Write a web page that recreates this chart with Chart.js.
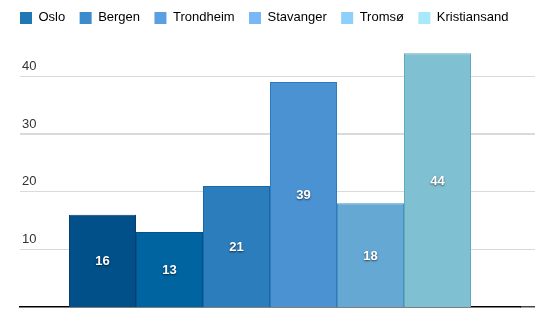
<!DOCTYPE html>
<html>
<head>
<meta charset="utf-8">
<script src="https://cdn.jsdelivr.net/npm/chart.js@4/dist/chart.umd.min.js"></script>
<style>
  html, body { margin: 0; padding: 0; background: #fff; }
  #wrap { width: 552px; height: 322px; position: relative; }
</style>
</head>
<body>
<div id="wrap"><canvas id="c" width="552" height="322"></canvas></div>
<script>
const cities = ['Oslo', 'Bergen', 'Trondheim', 'Stavanger', 'Tromsø', 'Kristiansand'];
const values = [16, 13, 21, 39, 18, 44];
const barColors = ['#02508a', '#0064a0', '#2c7dbb', '#4a92d1', '#66a8d4', '#80c0d3'];
const barBorders = ['#083f6e', '#03528c', '#1a68a8', '#2a7cbe', '#4890bf', '#62a9bb'];
const legendColors = ['#1f78b4', '#3d8bcc', '#5aa0e0', '#78b8f7', '#8ed0fc', '#a8e8fb'];
const yTicks = [10, 20, 30, 40];
const yMax = 48;

Chart.defaults.font.family = "'Liberation Sans', Arial, Helvetica, sans-serif";
Chart.defaults.font.size = 13;
Chart.defaults.color = '#333';

const valueLabels = {
  id: 'valueLabels',
  afterDatasetsDraw(chart) {
    const ctx = chart.ctx;
    ctx.save();
    ctx.font = "bold 13px 'Liberation Sans', Arial, sans-serif";
    ctx.fillStyle = '#fff';
    ctx.textAlign = 'center';
    ctx.textBaseline = 'middle';
    ctx.shadowColor = 'rgba(0,0,0,0.6)';
    ctx.shadowBlur = 2;
    ctx.shadowOffsetX = 0;
    ctx.shadowOffsetY = 1;
    chart.data.datasets.forEach((ds, i) => {
      const meta = chart.getDatasetMeta(i);
      meta.data.forEach((el, j) => {
        const p = el.getProps(['x', 'y', 'base'], true);
        ctx.fillText(String(ds.data[j]), p.x, (p.y + p.base) / 2 + 1);
      });
    });
    ctx.restore();
  }
};

new Chart(document.getElementById('c'), {
  type: 'bar',
  data: {
    labels: [''],
    datasets: cities.map((c, i) => ({
      label: c,
      data: [values[i]],
      backgroundColor: barColors[i],
      borderColor: barBorders[i],
      borderWidth: 1,
      borderSkipped: 'bottom',
      barPercentage: 1,
      categoryPercentage: 402 / 500
    }))
  },
  options: {
    responsive: false,
    animation: false,
    devicePixelRatio: 1,
    layout: { padding: { left: 5.6, right: 17, top: -3, bottom: 15 } },
    plugins: {
      tooltip: { enabled: false },
      legend: {
        position: 'top',
        align: 'start',
        maxHeight: 33.2,
        labels: {
          boxWidth: 12,
          boxHeight: 12,
          padding: 14.4,
          color: '#222',
          font: { size: 13 },
          generateLabels: (chart) => cities.map((c, i) => ({
            text: c,
            fillStyle: legendColors[i],
            strokeStyle: legendColors[i],
            lineWidth: 0,
            hidden: false,
            datasetIndex: i
          }))
        }
      }
    },
    scales: {
      x: {
        grid: { display: false },
        ticks: { display: false },
        border: { display: true, color: '#000', width: 1.5 },
        afterFit: (s) => { s.height = 0; }
      },
      y: {
        position: 'left',
        min: 0,
        max: yMax,
        afterBuildTicks: (s) => { s.ticks = yTicks.map(v => ({ value: v })); },
        afterFit: (s) => { s.width = 14.4; },
        grid: {
          color: '#dadada',
          lineWidth: (ctx) => (ctx.tick && ctx.tick.value === 30 ? 2 : 1),
          drawTicks: false
        },
        border: { display: false },
        ticks: {
          mirror: true,
          padding: 2,
          labelOffset: -10,
          color: '#333',
          font: { size: 13 }
        }
      },
      yRight: {
        position: 'right',
        min: 0,
        max: yMax,
        afterBuildTicks: (s) => { s.ticks = [0].concat(yTicks).map(v => ({ value: v })); },
        afterFit: (s) => { s.width = 15; },
        grid: {
          drawOnChartArea: false,
          drawTicks: true,
          tickLength: 15,
          color: (ctx) => (ctx.tick && ctx.tick.value === 0 ? '#444' : '#dadada'),
          tickColor: (ctx) => (ctx.tick && ctx.tick.value === 0 ? '#444' : '#dadada'),
          lineWidth: (ctx) => (ctx.tick && ctx.tick.value === 30 ? 2 : (ctx.tick && ctx.tick.value === 0 ? 1.5 : 1)),
          tickWidth: (ctx) => (ctx.tick && ctx.tick.value === 30 ? 2 : (ctx.tick && ctx.tick.value === 0 ? 1.5 : 1))
        },
        border: { display: false },
        ticks: { display: false }
      }
    }
  },
  plugins: [valueLabels]
});
</script>
</body>
</html>
